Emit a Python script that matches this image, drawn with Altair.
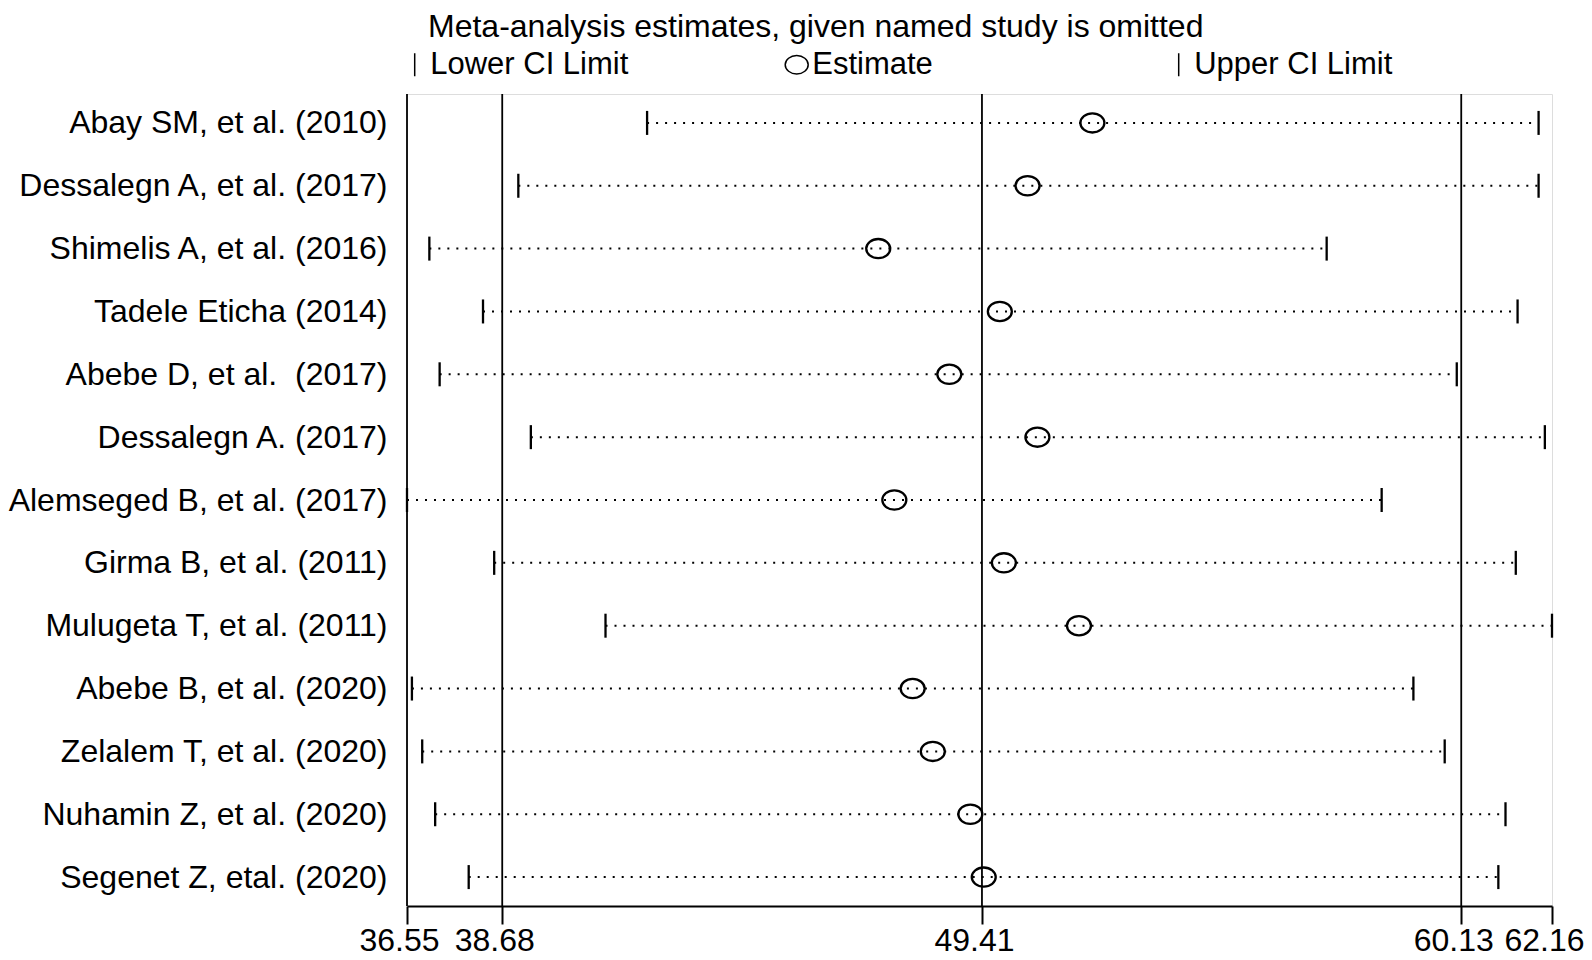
import altair as alt
import pandas as pd

studies = [
    "Abay SM, et al. (2010)",
    "Dessalegn A, et al. (2017)",
    "Shimelis A, et al. (2016)",
    "Tadele Eticha (2014)",
    "Abebe D, et al.\u00a0 (2017)",
    "Dessalegn A. (2017)",
    "Alemseged B, et al. (2017)",
    "Girma B, et al. (2011)",
    "Mulugeta T, et al. (2011)",
    "Abebe B, et al. (2020)",
    "Zelalem T, et al. (2020)",
    "Nuhamin Z, et al. (2020)",
    "Segenet Z, etal. (2020)",
]
lower = [41.92, 39.04, 37.05, 38.25, 37.28, 39.32, 36.55, 38.50, 40.99, 36.66, 36.89, 37.18, 37.93]
estimate = [51.88, 50.43, 47.09, 49.81, 48.68, 50.65, 47.45, 49.90, 51.58, 47.86, 48.31, 49.15, 49.45]
upper = [61.86, 61.86, 57.12, 61.39, 60.03, 62.00, 58.35, 61.35, 62.16, 59.06, 59.76, 61.12, 60.96]
ref_lines = [36.55, 38.68, 49.41, 60.13]
x_ticks = [36.55, 38.68, 49.41, 60.13, 62.16]
series = ["Lower CI Limit", "Estimate", "Upper CI Limit"]
title_text = "Meta-analysis estimates, given named study is omitted"

FONT = "Liberation Sans"
TICK = "M0,-1L0,1"
ELLIPSE = ("M1,0C1,0.4418,0.5523,0.8,0,0.8C-0.5523,0.8,-1,0.4418,-1,0"
           "C-1,-0.4418,-0.5523,-0.8,0,-0.8C0.5523,-0.8,1,-0.4418,1,0Z")

wide = pd.DataFrame({"study": studies, "lower": lower, "estimate": estimate, "upper": upper})
long_rows = []
for s, lo, es, up in zip(studies, lower, estimate, upper):
    long_rows.append({"study": s, "series": series[0], "value": lo})
    long_rows.append({"study": s, "series": series[1], "value": es})
    long_rows.append({"study": s, "series": series[2], "value": up})
long = pd.DataFrame(long_rows)
refs = pd.DataFrame({"ref": ref_lines})

x_scale = alt.Scale(domain=[36.55, 62.16], nice=False, zero=False)
y_enc = alt.Y(
    "study:N",
    sort=studies,
    scale=alt.Scale(type="point", padding=0.46),
    axis=alt.Axis(
        title=None, domain=False, ticks=False, grid=False,
        labelFontSize=32, labelPadding=20, labelLimit=700,
        labelColor="black", labelFont=FONT,
    ),
)

vlines = alt.Chart(refs).mark_rule(color="black", strokeWidth=1.8).encode(
    x=alt.X("ref:Q", scale=x_scale, title=None)
)

dots = alt.Chart(wide).mark_rule(color="black", strokeWidth=2, strokeDash=[2, 7]).encode(
    x=alt.X(
        "lower:Q",
        scale=x_scale,
        axis=alt.Axis(
            title=None, values=x_ticks, format=".2f", grid=False,
            domainColor="black", domainWidth=2, tickColor="black", tickWidth=2,
            tickSize=18, labelFontSize=32, labelColor="black", labelFont=FONT,
            labelPadding=1, labelOverlap=False, labelFlush=False, labelOffset=-8,
        ),
    ),
    x2="upper:Q",
    y=y_enc,
)

points = alt.Chart(long).mark_point(
    filled=False, size=576, strokeWidth=2.3, color="black", opacity=1
).encode(
    x=alt.X("value:Q", scale=x_scale, title=None),
    y=y_enc,
    shape=alt.Shape(
        "series:N",
        scale=alt.Scale(domain=series, range=[TICK, ELLIPSE, TICK]),
        legend=alt.Legend(
            title=None, orient="none", legendX=-7.8, legendY=-45,
            direction="horizontal", columns=3, gridAlign="all",
            columnPadding=152, labelOffset=0, labelFontSize=31,
            labelColor="black", labelFont=FONT, labelLimit=400,
            symbolSize=529, symbolStrokeWidth=1.5, symbolStrokeColor="black",
            symbolFillColor="transparent", padding=0,
        ),
    ),
)

chart = (
    alt.layer(vlines, dots, points)
    .properties(
        width=1145,
        height=812,
        padding={"left": 399, "top": 86, "right": 32, "bottom": 52},
        autosize=alt.AutoSizeParams(type="none"),
        background="white",
        title=alt.TitleParams(
            title_text, anchor="start", frame="group", dx=21, offset=5,
            fontSize=32, fontWeight="normal", color="black", font=FONT,
        ),
    )
    .configure_view(stroke=None)
    .configure(font=FONT)
)

chart.save("out.html", embed_options={"renderer": "svg", "actions": False})
